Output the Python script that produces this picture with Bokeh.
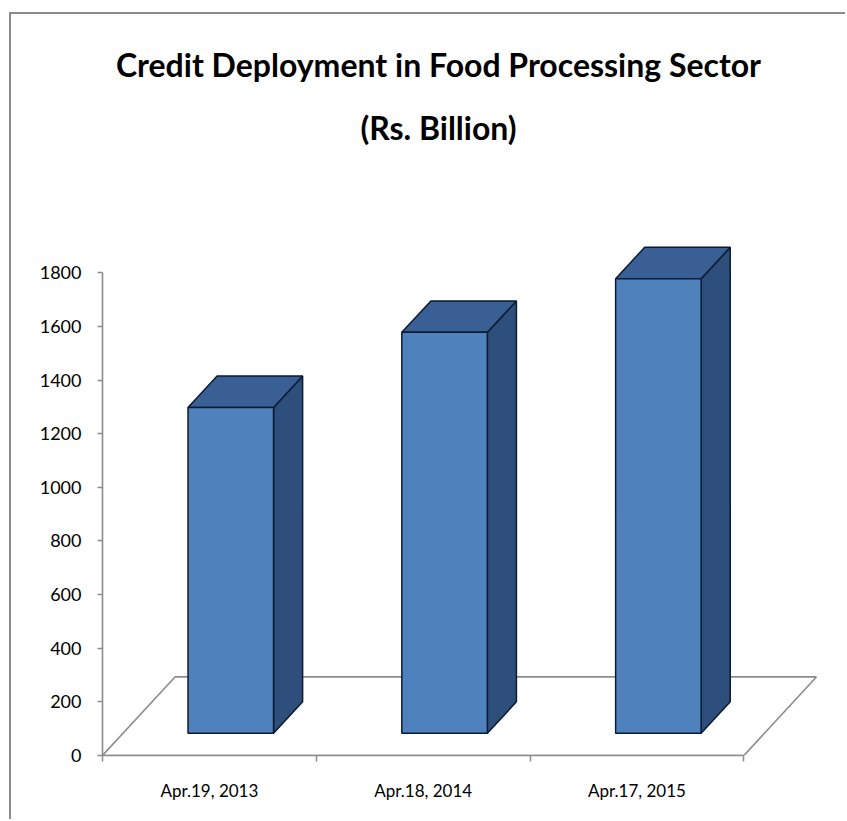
from bokeh.plotting import figure
from bokeh.models import Range1d, FixedTicker, Label
from bokeh.embed import file_html
from bokeh.resources import INLINE

# ---- data ----
categories = ["Apr.19, 2013", "Apr.18, 2014", "Apr.17, 2015"]
values = [1215, 1495, 1695]
y_ticks = [0, 200, 400, 600, 800, 1000, 1200, 1400, 1600, 1800]
title_lines = ["Credit Deployment in Food Processing Sector", "(Rs. Billion)"]

# ---- style constants (3-D look) ----
FONT = "Lato"
FRONT = "#4F81BD"
TOP = "#3A5F95"
SIDE = "#2E4F7C"
EDGE = "#0B1B33"
GRID = "#8C8C8C"

BAR_W = 0.40            # bar width in category units
OFF_X, OFF_Y = 0.10, 83.0        # bar front face set back into the floor
DEP_X, DEP_Y = 0.136, 117.0      # bar depth
FLOOR_X, FLOOR_Y = 0.339, 293.0  # floor depth

n = len(categories)
idx = list(range(n))

p = figure(width=836, height=807, output_backend="svg", toolbar_location=None,
           x_range=Range1d(-0.5, 2.905), y_range=Range1d(0, 2763),
           min_border_left=91, min_border_right=17, min_border_bottom=66,
           min_border_top=0, title=None,
           styles={"margin-left": "9px", "margin-top": "12px",
                   "border-left": "2px solid #8C8C8C", "border-top": "2px solid #8C8C8C"})
p.outline_line_color = None
p.grid.visible = False
p.background_fill_color = "white"
p.border_fill_color = "white"

# titles (screen offsets relative to the plot frame)
p.add_layout(Label(x=336, y=691, x_units="screen", y_units="screen", text=title_lines[0],
                   text_font=FONT, text_font_size="32px", text_font_style="bold",
                   text_color="black", text_align="center", text_baseline="middle"))
p.add_layout(Label(x=336, y=628, x_units="screen", y_units="screen", text=title_lines[1],
                   text_font=FONT, text_font_size="32px", text_font_style="bold",
                   text_color="black", text_align="center", text_baseline="middle"))

# floor outline
fx = [-0.5, 2.5, 2.5 + FLOOR_X, -0.5 + FLOOR_X, -0.5]
fy = [0, 0, FLOOR_Y, FLOOR_Y, 0]
p.line(fx, fy, line_color=GRID, line_width=1.6)

# bars
xl = [i + OFF_X - BAR_W / 2 for i in idx]
xr = [i + OFF_X + BAR_W / 2 for i in idx]
y0 = [OFF_Y] * n
y1 = [OFF_Y + v for v in values]

side_xs = [[r, r + DEP_X, r + DEP_X, r] for r in xr]
side_ys = [[b, b + DEP_Y, t + DEP_Y, t] for b, t in zip(y0, y1)]
top_xs = [[l, l + DEP_X, r + DEP_X, r] for l, r in zip(xl, xr)]
top_ys = [[t, t + DEP_Y, t + DEP_Y, t] for t in y1]

p.patches(side_xs, side_ys, fill_color=SIDE, line_color=EDGE, line_width=1.5)
p.patches(top_xs, top_ys, fill_color=TOP, line_color=EDGE, line_width=1.5)
p.quad(left=xl, right=xr, bottom=y0, top=y1, fill_color=FRONT, line_color=EDGE, line_width=1.5)

# axes
ya = p.yaxis[0]
ya.ticker = FixedTicker(ticks=y_ticks)
ya.bounds = (0, 1800)
ya.axis_line_color = GRID
ya.axis_line_width = 1.6
ya.major_tick_line_color = GRID
ya.major_tick_line_width = 1.5
ya.major_tick_in = 0
ya.major_tick_out = 5
ya.minor_tick_line_color = None
ya.major_label_standoff = 16
ya.major_label_text_font = FONT
ya.major_label_text_font_size = "18px"
ya.major_label_text_color = "black"

xa = p.xaxis[0]
xa.ticker = FixedTicker(ticks=idx, minor_ticks=[-0.5, 0.5, 1.5, 2.5])
xa.bounds = (-0.5, 2.5)
xa.major_label_overrides = {i: c for i, c in zip(idx, categories)}
xa.axis_line_color = GRID
xa.axis_line_width = 1.6
xa.major_tick_line_color = None
xa.major_tick_in = 0
xa.major_tick_out = 0
xa.minor_tick_line_color = GRID
xa.minor_tick_line_width = 1.5
xa.minor_tick_in = 0
xa.minor_tick_out = 6
xa.major_label_standoff = 18
xa.major_label_text_font = FONT
xa.major_label_text_font_size = "17px"
xa.major_label_text_color = "black"

open("out.html", "w").write(file_html(p, INLINE))
